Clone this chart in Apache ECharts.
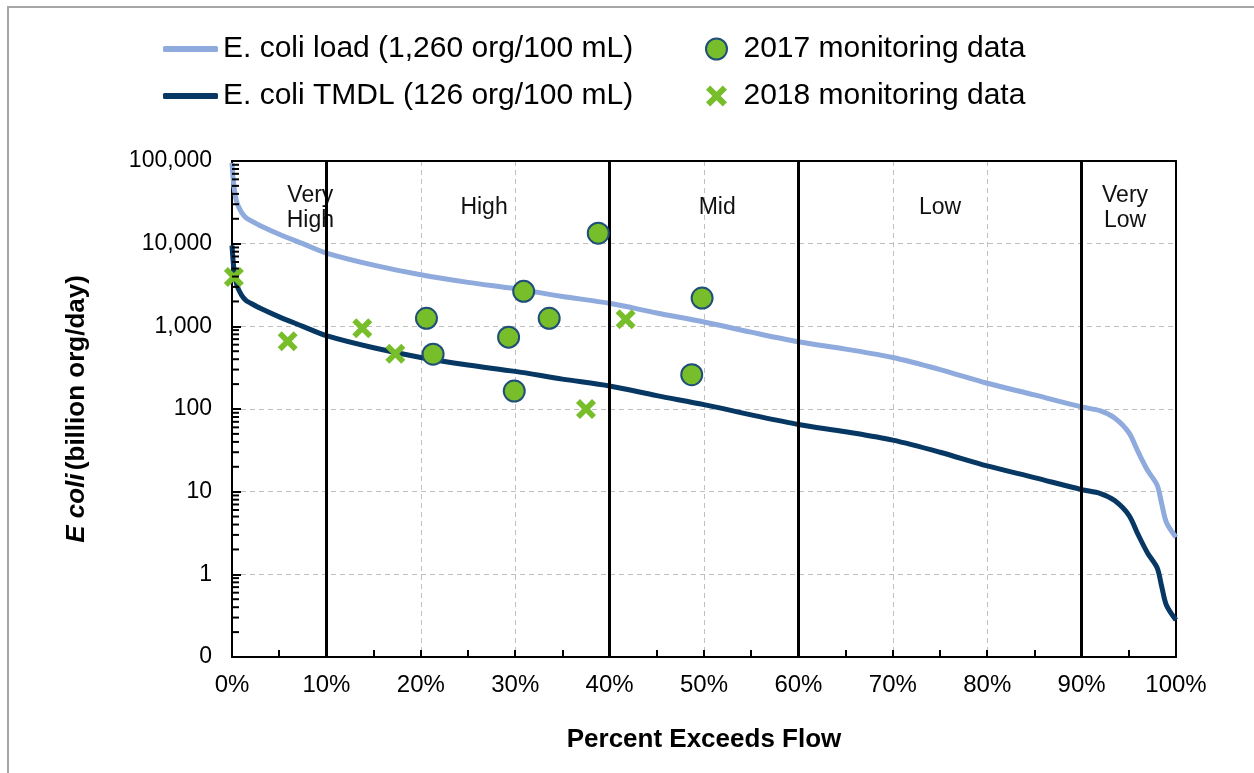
<!DOCTYPE html>
<html><head><meta charset="utf-8">
<script src="https://cdn.jsdelivr.net/npm/echarts@6/dist/echarts.min.js"></script>
<style>html,body{margin:0;padding:0;background:#fff}#c{width:1254px;height:773px}</style>
</head><body><div id="c"></div>
<script>
// ---- data ----
const flowPct = [0,0.2,0.5,1,1.5,2,3,5,7.5,10,15,20,25,30,35,40,45,50,55,60,65,70,75,80,85,90,92,93.5,95,96,97,98,98.5,99,100];
const loadValues = [95000,50000,32000,24000,20500,19000,16500,13000,10000,7700,5500,4200,3400,2850,2300,1900,1450,1130,850,650,530,420,300,205,148,106,95,78,52,30,18,12,7,4.2,2.8];
const tmdlValues = [9500,5000,3200,2400,2050,1900,1650,1300,1000,770,550,420,340,285,230,190,145,113,85,65,53,42,30,20.5,14.8,10.6,9.5,7.8,5.2,3.0,1.8,1.2,0.7,0.42,0.28];
const data2017X = [20.6,21.3,29.3,29.9,30.9,33.6,38.8,48.7,49.8];
const data2017Y = [1250,460,740,165,2650,1250,13400,260,2200];
const data2018X = [0.2,5.9,13.8,17.3,37.5,41.7];
const data2018Y = [3950,660,950,465,100,1220];
const zoneBreaks = [10,40,60,90];
const zoneNames = ['Very\nHigh','High','Mid','Low','Very\nLow'];
const zoneCenters = [8.3,26.7,51.4,75,94.6];
const zoneLabelLevel = 27000;
const seriesNames = ['E. coli load (1,260 org/100 mL)','E. coli TMDL (126 org/100 mL)','2017 monitoring data','2018 monitoring data'];
const yMin = 0.1, yMax = 100000;

// minor log ticks (axis decoration)
const minorTicks = [];
for (let e = -1; e < 5; e++) for (let m = 2; m <= 9; m++) minorTicks.push([0, m * Math.pow(10, e)]);

const green = '#78BE2A';
const xPath = 'path://M0,2 L2,0 L5,3 L8,0 L10,2 L7,5 L10,8 L8,10 L5,7 L2,10 L0,8 L3,5 Z';
const FONT = 'Liberation Sans, Arial, sans-serif';
const borderAxis = {axisLine: {show: true, onZero: false, lineStyle: {color: '#000', width: 2}}, axisTick: {show: false}, axisLabel: {show: false}, splitLine: {show: false}};

const chart = echarts.init(document.getElementById('c'), null, {renderer: 'canvas'});
chart.setOption({
  animation: false,
  backgroundColor: '#fff',
  textStyle: {fontFamily: FONT, color: '#000'},
  graphic: [{type: 'rect', shape: {x: 8, y: 7, width: 1400, height: 900}, style: {fill: 'none', stroke: '#A6A6A6', lineWidth: 2}, silent: true}],
  legend: [
    {data: [seriesNames[0], seriesNames[1]], orient: 'vertical', left: 158, top: 29, itemWidth: 55, itemHeight: 6, icon: 'roundRect', itemGap: 17,
     textStyle: {fontSize: 30, lineHeight: 30, color: '#000', fontFamily: FONT}},
    {data: [seriesNames[2], seriesNames[3]], orient: 'vertical', left: 700, top: 29, itemWidth: 24, itemHeight: 21, itemGap: 17,
     textStyle: {fontSize: 30, lineHeight: 30, color: '#000', fontFamily: FONT, padding: [0, 0, 0, 10]}}
  ],
  grid: {left: 232, right: 78, top: 161, bottom: 116},
  xAxis: [{
    type: 'value', min: 0, max: 100, interval: 10,
    name: 'Percent Exceeds Flow', nameLocation: 'middle', nameGap: 70,
    nameTextStyle: {fontSize: 26, fontWeight: 'bold', color: '#000', fontFamily: FONT},
    axisLine: {lineStyle: {color: '#000', width: 2}},
    axisTick: {inside: true, length: 7, lineStyle: {color: '#000', width: 2}},
    minorTick: {show: true, splitNumber: 2, length: 7, lineStyle: {color: '#000', width: 2}},
    axisLabel: {formatter: '{value}%', fontSize: 24, color: '#000', margin: 16, fontFamily: FONT},
    splitLine: {show: true, lineStyle: {color: '#BFBFBF', type: [5, 4], width: 1}}
  }, Object.assign({type: 'value', min: 0, max: 100, position: 'top'}, borderAxis)],
  yAxis: [{
    type: 'log', logBase: 10, min: yMin, max: yMax,
    name: '{i|E coli} {b|(billion org/day)}', nameLocation: 'middle', nameGap: 142, nameRotate: 90,
    nameTextStyle: {rich: {i: {fontSize: 26, fontWeight: 'bold', fontStyle: 'italic', fontFamily: FONT, color: '#000'},
                           b: {fontSize: 26, fontWeight: 'bold', fontFamily: FONT, color: '#000'}}},
    axisLine: {show: true, lineStyle: {color: '#000', width: 2}},
    axisTick: {inside: true, length: 9, lineStyle: {color: '#000', width: 2}},
    axisLabel: {fontSize: 23, color: '#000', margin: 20, fontFamily: FONT,
      formatter: v => v < 1 ? '0' : Math.round(v).toLocaleString('en-US')},
    splitLine: {show: true, lineStyle: {color: '#BFBFBF', type: [5, 4], width: 1}}
  }, Object.assign({type: 'log', logBase: 10, min: yMin, max: yMax, position: 'right'}, borderAxis)],
  series: [
    {name: seriesNames[0], type: 'line', data: flowPct.map((x, i) => [x, loadValues[i]]), showSymbol: false, symbol: 'none',
     smooth: 0.3, lineStyle: {color: '#8FAADC', width: 5}, itemStyle: {color: '#8FAADC'}, z: 3,
     markLine: {silent: true, symbol: ['none', 'none'], label: {show: false}, lineStyle: {color: '#000', width: 3, type: 'solid'},
       data: zoneBreaks.map(v => ({xAxis: v}))}},
    {name: seriesNames[1], type: 'line', data: flowPct.map((x, i) => [x, tmdlValues[i]]), showSymbol: false, symbol: 'none',
     smooth: 0.3, lineStyle: {color: '#073763', width: 5}, itemStyle: {color: '#073763'}, z: 3},
    {name: seriesNames[2], type: 'scatter', data: data2017X.map((x, i) => [x, data2017Y[i]]), symbol: 'circle', symbolSize: 21,
     itemStyle: {color: green, borderColor: '#1F4E79', borderWidth: 2, opacity: 1}, z: 5},
    {name: seriesNames[3], type: 'scatter', data: data2018X.map((x, i) => [x, data2018Y[i]]), symbol: xPath, symbolSize: 20,
     itemStyle: {color: green, opacity: 1}, z: 5},
    {type: 'custom', silent: true, data: zoneCenters.map((x, i) => [x, zoneLabelLevel, i]), clip: false, z: 4,
     renderItem: (params, api) => {
       const p = api.coord([api.value(0), api.value(1)]);
       return {type: 'text', x: p[0], y: p[1], style: {text: zoneNames[api.value(2)], fill: '#111', font: '23px ' + FONT,
         lineHeight: 25, align: 'center', verticalAlign: 'middle'}};
     }},
    {type: 'custom', silent: true, data: minorTicks, clip: false, z: 6,
     renderItem: (params, api) => {
       const p = api.coord([api.value(0), api.value(1)]);
       return {type: 'line', shape: {x1: p[0], y1: p[1], x2: p[0] + 7, y2: p[1]}, style: {stroke: '#000', lineWidth: 2}};
     }}
  ]
});
</script></body></html>
